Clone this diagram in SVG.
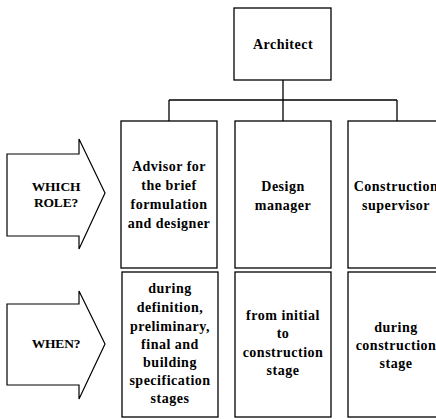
<svg xmlns="http://www.w3.org/2000/svg" width="436" height="419" viewBox="0 0 436 419">
  <style>
    .box { fill: #fff; stroke: #000; stroke-width: 1.3; }
    .arrow { fill: #fff; stroke: #000; stroke-width: 1.2; stroke-linejoin: miter; }
    .wire { fill: none; stroke: #000; stroke-width: 1.3; }
    text { font-family: "Liberation Serif", "Times New Roman", serif; font-weight: bold; font-size: 14px; letter-spacing: 0.5px; fill: #000; text-anchor: middle; }
    .caps { letter-spacing: -0.2px; font-size: 13.5px; }
  </style>
  <rect width="436" height="419" fill="#fff"/>

  <!-- organisation tree wiring -->
  <g id="connectors">
    <path class="wire" d="M283 80 V100 M169 100 H397 M169 100 V121 M283 100 V121 M397 100 V121"/>
  </g>

  <g id="architect">
    <rect class="box" x="234" y="8" width="97" height="72"/>
    <text x="283" y="49">Architect</text>
  </g>

  <!-- row labels -->
  <g id="arrow-role">
    <path class="arrow" d="M7 154 H79 V139 L105 193 L79 249 V236 H7 Z"/>
    <text class="caps" x="56" y="191">WHICH</text>
    <text class="caps" x="56" y="207">ROLE?</text>
  </g>
  <g id="arrow-when">
    <path class="arrow" d="M7 304 H79 V291 L105 344 L79 399 V385 H7 Z"/>
    <text class="caps" x="56" y="348">WHEN?</text>
  </g>

  <!-- roles -->
  <g id="role-advisor">
    <rect class="box" x="121" y="121" width="96" height="147"/>
    <text x="169" y="171">Advisor for</text>
    <text x="169" y="190">the brief</text>
    <text x="169" y="209">formulation</text>
    <text x="169" y="228">and designer</text>
  </g>
  <g id="role-design-manager">
    <rect class="box" x="235" y="121" width="96" height="147"/>
    <text x="283" y="191">Design</text>
    <text x="283" y="210">manager</text>
  </g>
  <g id="role-supervisor">
    <rect class="box" x="348" y="121" width="96" height="147"/>
    <text x="396" y="191">Construction</text>
    <text x="396" y="210">supervisor</text>
  </g>

  <!-- timing -->
  <g id="when-advisor">
    <rect class="box" x="122" y="272" width="96" height="145"/>
    <text x="170" y="293">during</text>
    <text x="170" y="312">definition,</text>
    <text x="170" y="331">preliminary,</text>
    <text x="170" y="349">final and</text>
    <text x="170" y="367">building</text>
    <text x="170" y="385">specification</text>
    <text x="170" y="403">stages</text>
  </g>
  <g id="when-design-manager">
    <rect class="box" x="235" y="272" width="96" height="145"/>
    <text x="283" y="320">from initial</text>
    <text x="283" y="338">to</text>
    <text x="283" y="357">construction</text>
    <text x="283" y="375">stage</text>
  </g>
  <g id="when-supervisor">
    <rect class="box" x="348" y="272" width="96" height="145"/>
    <text x="396" y="332">during</text>
    <text x="396" y="350">construction</text>
    <text x="396" y="368">stage</text>
  </g>
</svg>
